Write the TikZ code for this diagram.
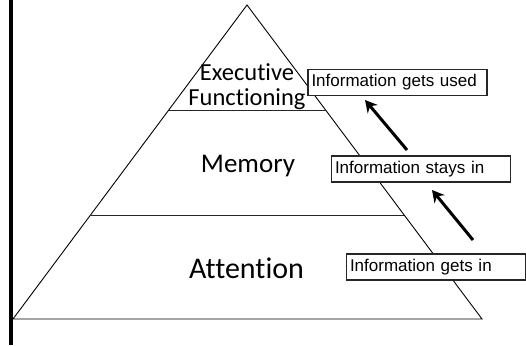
\documentclass[tikz,border=0pt]{standalone}
\usepackage{fontspec}
\setmainfont{Carlito}[Ligatures=NoCommon]
\newfontfamily\boxfont{Liberation Sans}
\usepackage{tikz}
\usetikzlibrary{calc}
\usetikzlibrary{arrows.meta}
\usepackage{xcolor}

\tikzset{
  level/.style={inner sep=0pt},
  infobox/.style={draw=black!85, line width=1.1pt, fill=white, minimum height=26pt,
    text width=172pt, inner xsep=3.5pt, inner ysep=0pt, align=left,
    font=\boxfont\fontsize{17}{20}\selectfont},
  uparrow/.style={line width=3pt, -{Stealth[length=12pt,width=13pt,inset=4pt]}}
}

\begin{document}
\begin{tikzpicture}[x=1pt,y=-1pt]
\useasboundingbox (0,0) rectangle (526,345);
% \draw[lightgray] (0,0) grid[step=50] (526,345);

\draw[line width=3.5pt] (11,0)--(11,345);

\coordinate (Top) at (247,5);
\coordinate (BL) at (13,319);
\coordinate (BR) at (482,319);

\draw[line width=0.9pt] (Top)--(BL)--(BR)--cycle;

% level lines
\draw[line width=0.9pt, black!85] ($(Top)!0.3344!(BL)$)--($(Top)!0.3344!(BR)$);
\draw[line width=0.9pt, black!85] ($(Top)!0.6688!(BL)$)--($(Top)!0.6688!(BR)$);

\node[level, align=center, font=\fontsize{24.5}{25}\selectfont] (exec) at (247,87) {Executive\\Functioning};
\node[level, anchor=base, font=\fontsize{27}{30}\selectfont] (mem) at (248,172) {Memory};
\node[level, anchor=base, font=\fontsize{30}{33}\selectfont] (att) at (246.5,278) {Attention};

\node[infobox] (used) at (397.5,82.5) {Information gets used};
\node[infobox] (stays) at (421,169) {Information stays in};
\node[infobox] (getsin) at (436,267) {Information gets in};

\coordinate (s1) at (407,150);
\coordinate (e1) at (365,100);
\coordinate (s2) at (473,240);
\coordinate (e2) at (432,190);

\draw[uparrow] (s1)--(e1);
\draw[uparrow] (s2)--(e2);

\end{tikzpicture}
\end{document}
